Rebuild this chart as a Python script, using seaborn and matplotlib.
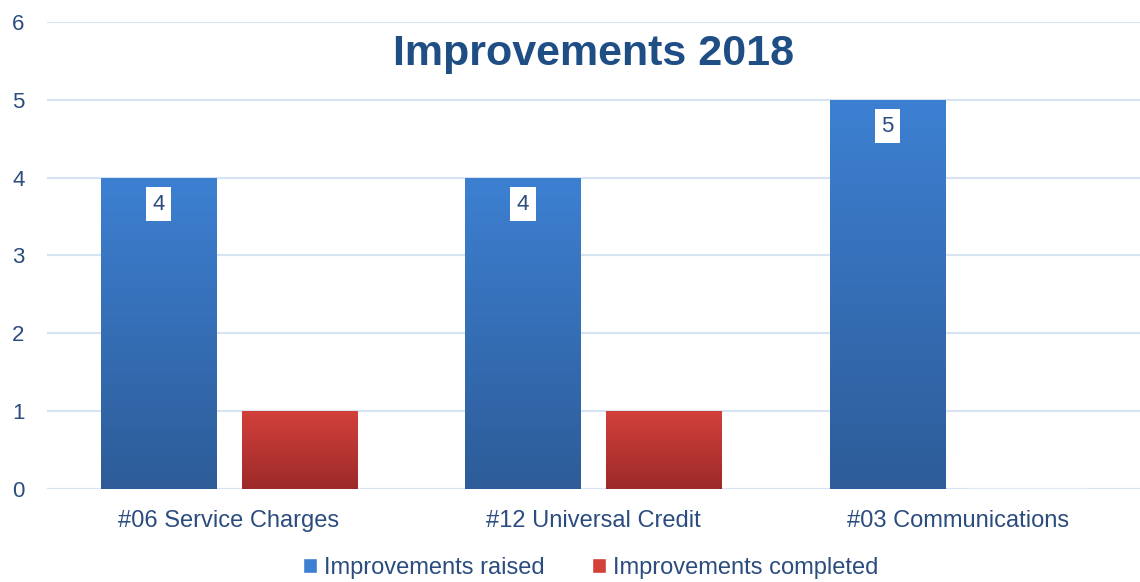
import numpy as np
import pandas as pd
import matplotlib
matplotlib.use("Agg")
import matplotlib.pyplot as plt
from matplotlib.patches import Patch
from matplotlib.colors import LinearSegmentedColormap
import seaborn as sb

# chart data
categories = ["#06 Service Charges", "#12 Universal Credit", "#03 Communications"]
raised = [4, 4, 5]
completed = [1, 1, 0]
series_names = ["Improvements raised", "Improvements completed"]

df = pd.DataFrame({
    "category": categories * 2,
    "value": raised + completed,
    "series": [series_names[0]] * 3 + [series_names[1]] * 3,
})

text_col = "#2B4C7E"
grid_col = "#D9E4F2"
blue_top, blue_bot = "#3D80D2", "#2D5C98"
red_top, red_bot = "#D3403A", "#9C2A2A"

sb.set_theme(style="white")
plt.rcParams["font.family"] = ["Liberation Sans", "DejaVu Sans"]

fig = plt.figure(figsize=(11.4, 5.82), dpi=100)
ax = fig.add_axes([0.041, 0.160, 0.959, 0.802])

sb.barplot(data=df, x="category", y="value", hue="series",
           palette=[blue_top, red_top], width=0.772, gap=0.18,
           legend=False, ax=ax, zorder=3)

ax.set_ylim(0, 6)
ax.set_xlim(-0.5, 2.5)
ax.set_yticks(range(0, 7))
ax.yaxis.grid(True, color=grid_col, lw=1.6, zorder=0)
ax.xaxis.grid(False)
for s in ax.spines.values():
    s.set_visible(False)
ax.tick_params(axis="both", length=0, colors=text_col)
ax.tick_params(axis="x", pad=15, labelsize=17)
ax.tick_params(axis="y", pad=16, labelsize=16)
ax.set_xlabel("")
ax.set_ylabel("")

# gradient fill for each bar
cmaps = [LinearSegmentedColormap.from_list("b", [blue_bot, blue_top]),
         LinearSegmentedColormap.from_list("r", [red_bot, red_top])]
grad = np.linspace(0, 1, 256).reshape(-1, 1)
for i, p in enumerate(ax.patches[:6]):
    x0, y0 = p.get_x(), p.get_y()
    w, h = p.get_width(), p.get_height()
    if h <= 0:
        continue
    p.set_facecolor("none")
    p.set_edgecolor("none")
    im = ax.imshow(grad, cmap=cmaps[i // 3], origin="lower", aspect="auto",
                   extent=[x0, x0 + w, y0, y0 + h], zorder=3)
    im.set_clip_path(p)

ax.set_xlim(-0.5, 2.5)
ax.set_ylim(0, 6)

# data labels on raised bars
for i, p in enumerate(ax.patches[:3]):
    ax.annotate(str(raised[i]), (p.get_x() + p.get_width() / 2, p.get_height()),
                xytext=(0, -19), textcoords="offset points",
                ha="center", va="center", fontsize=16, color=text_col, zorder=5,
                bbox=dict(boxstyle="square,pad=0.3", fc="white", ec="none"))

ax.text(0.5, 0.932, "Improvements 2018", transform=ax.transAxes,
        ha="center", va="center", fontsize=31, fontweight="bold", color="#1F4E85")

handles = [Patch(facecolor=blue_top, label=series_names[0]),
           Patch(facecolor=red_top, label=series_names[1])]
fig.legend(handles=handles, loc="center", bbox_to_anchor=(0.518, 0.024), ncol=2,
           frameon=False, fontsize=17, labelcolor=text_col,
           handlelength=0.6, handleheight=0.6, handletextpad=0.3, columnspacing=2.0)

fig.savefig("out.png", dpi=100)
